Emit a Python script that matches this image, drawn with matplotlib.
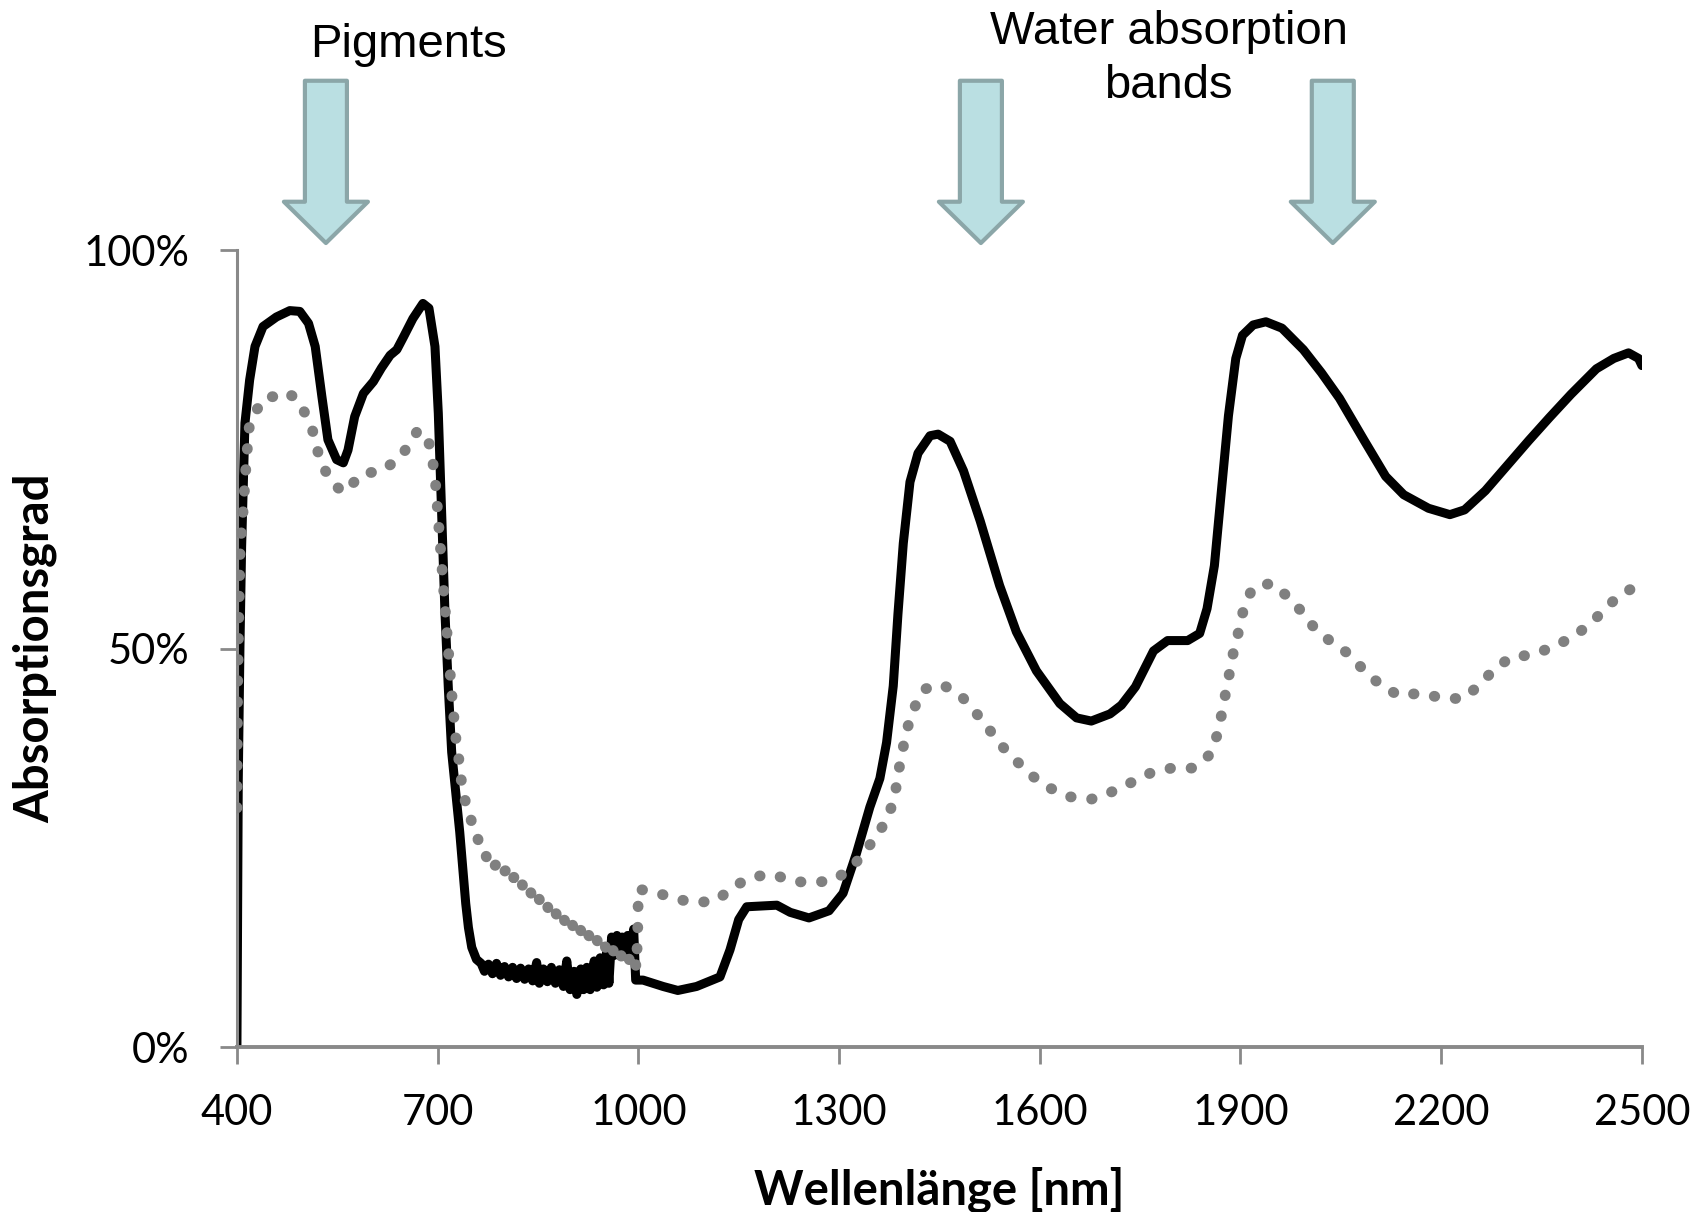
import matplotlib
matplotlib.use("Agg")
import matplotlib.pyplot as plt
from matplotlib.patches import Polygon
from matplotlib.ticker import PercentFormatter
import matplotlib.transforms as mtransforms

# black curve (solid): wavelength [nm], absorption [0..1]
black_nm = [400, 402, 404.5, 407, 412, 419, 427, 439, 459, 479, 494, 507, 517, 527,
            536, 549, 559, 566, 576, 589, 604, 616, 629, 639, 649, 663, 678, 687,
            696, 701, 706, 711, 716, 721, 727, 733, 738, 742, 746, 751, 758, 765,
            770, 776, 782, 788, 794, 800, 806, 812, 818, 824, 830, 836, 842, 848,
            852, 858, 864, 870, 876, 882, 888, 893, 898, 904, 908, 914, 918, 923,
            928, 934, 938, 943, 948, 953, 956, 960, 964, 968, 972, 976, 980, 984,
            988, 993, 996, 1007, 1037, 1059, 1087,
            1122, 1137, 1150, 1162, 1207, 1227, 1255, 1285, 1306, 1326, 1346, 1361,
            1371, 1381, 1388, 1396, 1406, 1418, 1436, 1448, 1466, 1486, 1511, 1540,
            1565, 1595, 1630, 1655, 1677, 1705, 1722, 1743, 1770, 1791, 1821, 1839,
            1850, 1861, 1871, 1882, 1893, 1903, 1919, 1938, 1962, 1994, 2021, 2048,
            2085, 2117, 2144, 2181, 2213, 2235, 2266, 2298, 2331, 2362, 2394, 2432,
            2458, 2480, 2495, 2500]
black_abs = [0.0, 0.335, 0.502, 0.628, 0.783, 0.837, 0.879, 0.904, 0.916, 0.924, 0.923,
             0.908, 0.879, 0.816, 0.762, 0.737, 0.733, 0.749, 0.791, 0.820, 0.835,
             0.852, 0.868, 0.875, 0.891, 0.914, 0.933, 0.927, 0.879, 0.795, 0.670,
             0.544, 0.45, 0.37, 0.32, 0.27, 0.22, 0.18, 0.15, 0.125, 0.11, 0.105,
             0.095, 0.104, 0.092, 0.105, 0.090, 0.101, 0.088, 0.100, 0.086, 0.099,
             0.085, 0.098, 0.083, 0.106, 0.080, 0.098, 0.082, 0.100, 0.080, 0.097,
             0.076, 0.108, 0.072, 0.095, 0.066, 0.098, 0.072, 0.100, 0.072, 0.108,
             0.075, 0.112, 0.078, 0.120, 0.080, 0.138, 0.115, 0.140, 0.115, 0.138,
             0.120, 0.140, 0.115, 0.148, 0.084, 0.084, 0.076, 0.071, 0.076,
             0.088, 0.122, 0.160,
             0.176, 0.178, 0.169, 0.162, 0.171, 0.193, 0.243, 0.301, 0.337, 0.382,
             0.453, 0.543, 0.632, 0.709, 0.745, 0.767, 0.769, 0.760, 0.723, 0.660,
             0.579, 0.521, 0.472, 0.431, 0.413, 0.409, 0.418, 0.429, 0.452, 0.497,
             0.510, 0.510, 0.519, 0.550, 0.604, 0.694, 0.792, 0.864, 0.893, 0.906,
             0.910, 0.902, 0.875, 0.846, 0.814, 0.761, 0.716, 0.693, 0.676, 0.668,
             0.674, 0.698, 0.729, 0.761, 0.790, 0.819, 0.851, 0.864, 0.871, 0.864,
             0.855]

# grey curve (dotted)
grey_nm = [400, 401, 403, 405, 409, 414.5, 419, 429, 444, 464, 474, 489, 502, 512,
           524, 534, 549, 560, 574, 589, 614, 644, 669, 684, 691, 696, 701, 706, 711,
           716, 721, 727, 731, 738, 741, 745, 750, 754, 758, 763, 768, 773, 778, 784,
           790, 796, 802, 808, 814, 820, 826, 832, 838, 844, 850, 856, 862, 868, 874,
           880, 886, 892, 898, 904, 910, 916, 922, 928, 934, 940, 946, 952, 958, 964,
           970, 976, 982, 988, 993, 997,
           999, 1000, 1023, 1055, 1086, 1117, 1142, 1168, 1200, 1231, 1262, 1294,
           1320, 1340, 1359, 1375, 1384, 1389, 1395, 1402, 1412, 1427, 1454, 1482,
           1503, 1523, 1543, 1565, 1589, 1615, 1645, 1677, 1707, 1737, 1766, 1797,
           1829, 1853, 1865, 1872, 1878, 1884, 1890, 1898, 1905, 1918, 1946, 1971,
           1993, 2013, 2038, 2064, 2085, 2110, 2137, 2169, 2201, 2232, 2256, 2278,
           2304, 2334, 2365, 2393, 2419, 2442, 2465, 2491]
grey_abs = [0.30, 0.45, 0.55, 0.63, 0.67, 0.741, 0.783, 0.799, 0.816, 0.816, 0.821,
            0.814, 0.795, 0.777, 0.737, 0.720, 0.703, 0.696, 0.708, 0.720, 0.722,
            0.739, 0.772, 0.769, 0.743, 0.716, 0.661, 0.607, 0.552, 0.498, 0.444,
            0.389, 0.366, 0.316, 0.31, 0.29, 0.285, 0.27, 0.268, 0.252, 0.252, 0.238,
            0.242, 0.226, 0.232, 0.217, 0.222, 0.206, 0.213, 0.198, 0.205, 0.19,
            0.197, 0.182, 0.19, 0.175, 0.182, 0.167, 0.175, 0.16, 0.168, 0.153,
            0.162, 0.147, 0.156, 0.141, 0.15, 0.135, 0.144, 0.13, 0.138, 0.122,
            0.132, 0.117, 0.126, 0.11, 0.12, 0.106, 0.115, 0.1,
            0.143, 0.198, 0.195, 0.186, 0.181, 0.184, 0.201,
            0.213, 0.217, 0.208, 0.206, 0.210, 0.226, 0.247, 0.268, 0.292, 0.319,
            0.346, 0.373, 0.400, 0.425, 0.449, 0.455, 0.441, 0.421, 0.400, 0.378,
            0.359, 0.340, 0.325, 0.314, 0.311, 0.320, 0.332, 0.344, 0.350, 0.350,
            0.366, 0.391, 0.418, 0.445, 0.471, 0.498, 0.524, 0.551, 0.576, 0.582,
            0.565, 0.545, 0.523, 0.507, 0.492, 0.472, 0.454, 0.441, 0.444, 0.438,
            0.437, 0.453, 0.473, 0.489, 0.492, 0.501, 0.513, 0.528, 0.547, 0.566,
            0.578]

x_ticks = [400, 700, 1000, 1300, 1600, 1900, 2200, 2500]
y_ticks = [0, 0.5, 1.0]
arrow_nm = [533, 1512, 2038]

plt.rcParams['font.family'] = ['Lato', 'DejaVu Sans']

fig = plt.figure(figsize=(16.96, 12.12), dpi=100)
ax = fig.add_axes([0.1397, 0.1361, 0.8284, 0.6576])

ax.plot(black_nm, black_abs, color="black", lw=6.5, solid_joinstyle="round",
        solid_capstyle="round", zorder=2)
ax.plot(grey_nm, grey_abs, color="#808080", lw=7.8, linestyle=(0, (0.05, 1.9)),
        dash_capstyle="round", zorder=3)

ax.set_xlim(400, 2500)
ax.set_ylim(0, 1)
ax.set_xticks(x_ticks)
ax.set_yticks(y_ticks)
ax.yaxis.set_major_formatter(PercentFormatter(1.0, decimals=0))

for s in ["top", "right"]:
    ax.spines[s].set_visible(False)
ax.spines["left"].set_color("#898989")
ax.spines["left"].set_linewidth(2.2)
ax.spines["bottom"].set_color("#898989")
ax.spines["bottom"].set_linewidth(2.8)
ax.tick_params(axis="both", direction="out", length=12, width=2, color="#898989",
               labelsize=30)
ax.tick_params(axis="x", pad=22)
ax.tick_params(axis="y", pad=22)

ax.set_xlabel("Wellenlänge [nm]", fontsize=34, fontweight="bold")
ax.xaxis.set_label_coords(0.5, -0.150)
ax.set_ylabel("Absorptionsgrad", fontsize=34, fontweight="bold")
ax.yaxis.set_label_coords(-0.128, 0.5)

# block arrows above the plot
trans = mtransforms.blended_transform_factory(ax.transData, ax.transAxes)
shaft_w, head_w = 62.8, 125.6
top, base, tip = 1.2124, 1.0606, 1.0088
for c in arrow_nm:
    pts = [(c - shaft_w / 2, top), (c + shaft_w / 2, top), (c + shaft_w / 2, base),
           (c + head_w / 2, base), (c, tip), (c - head_w / 2, base),
           (c - shaft_w / 2, base)]
    ax.add_patch(Polygon(pts, closed=True, transform=trans, clip_on=False,
                         facecolor="#BADFE2", edgecolor="#8BA6A8", lw=3,
                         joinstyle="round"))

fig.text(0.2406, 0.963, "Pigments", ha="center", va="center", fontsize=34,
         family="Liberation Sans")
fig.text(0.689, 0.951, "Water absorption\nbands", ha="center", va="center",
         fontsize=34, family="Liberation Sans", linespacing=1.3)

fig.savefig("out.png", dpi=100)
